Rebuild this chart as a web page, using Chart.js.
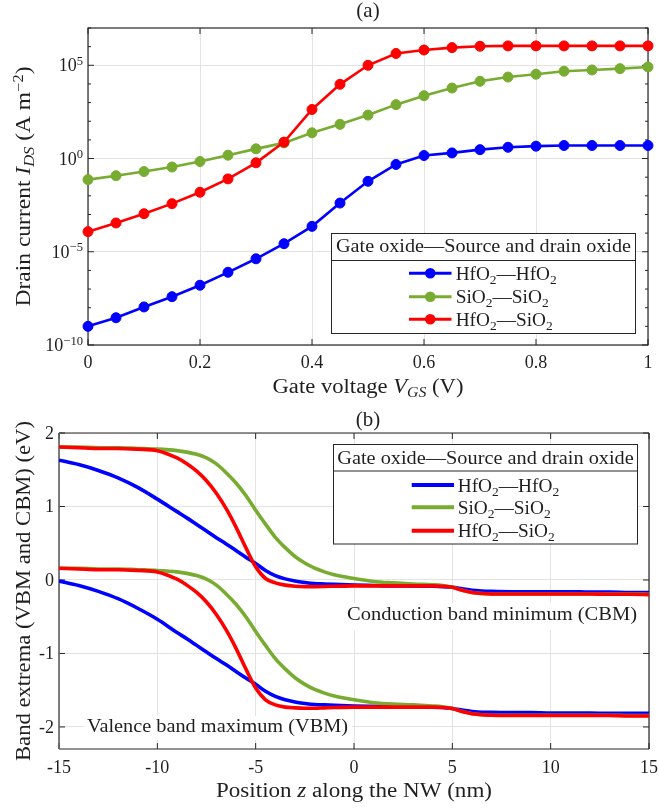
<!DOCTYPE html>
<html>
<head>
<meta charset="utf-8">
<script src="https://cdn.jsdelivr.net/npm/chart.js@4.4.1/dist/chart.umd.min.js"></script>
<style>
html,body{margin:0;padding:0;background:#fff;}
canvas{position:absolute;left:0;}
#c1{top:0;}
#c2{top:404px;}
</style>
</head>
<body>
<canvas id="c1" width="659" height="404"></canvas>
<canvas id="c2" width="659" height="404"></canvas>
<script>
// ---------------- DATA: panel (a) ----------------
const vgs = [0,0.05,0.1,0.15,0.2,0.25,0.3,0.35,0.4,0.45,0.5,0.55,0.6,0.65,0.7,0.75,0.8,0.85,0.9,0.95,1];
const idsHfO2HfO2 = [1.0e-9,2.9e-9,1.1e-8,3.9e-8,1.6e-7,7.9e-7,4.2e-6,2.7e-5,2.3e-4,4.1e-3,6.0e-2,0.48,1.45,2.0,3.0,4.0,4.6,5.0,5.0,5.0,5.0];
const idsSiO2SiO2 = [0.074,0.12,0.20,0.35,0.69,1.5,3.3,6.9,24,68,214,776,2340,6030,13800,23400,33100,47900,56200,66100,81300];
const idsHfO2SiO2 = [1.2e-4,3.5e-4,1.1e-3,3.8e-3,0.0155,0.081,0.59,7.6,427,9550,1.0e5,4.3e5,6.6e5,8.9e5,1.05e6,1.1e6,1.1e6,1.1e6,1.1e6,1.1e6,1.1e6];
const vgsTicks = [0,0.2,0.4,0.6,0.8,1];
const vgsTickLabels = ['0','0.2','0.4','0.6','0.8','1'];
const idsTickValues = [1e-10,1e-5,1e0,1e5];
const idsTickExps = ['\u221210','\u22125','0','5'];
const idsMinExp = -10, idsMaxExp = 7;

// ---------------- DATA: panel (b) ----------------
const zPos = [-15,-14,-13,-12,-11,-10,-9,-8.5,-8,-7.5,-7,-6.5,-6,-5.5,-5,-4.5,-4,-3.5,-3,-2.5,-2,-1.5,-1,0,1,2,3,4,4.5,5,5.5,6,6.5,7,8,9,10,11,12,13,14,15];
const cbmHfO2HfO2 = [1.63,1.57,1.49,1.39,1.26,1.10,0.93,0.845,0.755,0.665,0.575,0.49,0.40,0.31,0.225,0.13,0.06,0.015,-0.015,-0.035,-0.05,-0.055,-0.06,-0.07,-0.075,-0.08,-0.08,-0.085,-0.09,-0.10,-0.12,-0.14,-0.15,-0.155,-0.16,-0.16,-0.16,-0.16,-0.165,-0.165,-0.17,-0.17];
const cbmSiO2SiO2 = [1.81,1.81,1.80,1.80,1.79,1.78,1.76,1.74,1.71,1.66,1.58,1.46,1.32,1.15,0.95,0.76,0.58,0.44,0.32,0.23,0.16,0.11,0.07,0.02,-0.02,-0.04,-0.055,-0.065,-0.075,-0.10,-0.14,-0.17,-0.185,-0.19,-0.19,-0.19,-0.19,-0.19,-0.19,-0.19,-0.19,-0.195];
const cbmHfO2SiO2 = [1.81,1.80,1.79,1.79,1.78,1.76,1.66,1.58,1.48,1.35,1.18,0.97,0.72,0.44,0.18,0.02,-0.04,-0.07,-0.085,-0.09,-0.09,-0.088,-0.085,-0.08,-0.08,-0.08,-0.08,-0.08,-0.085,-0.10,-0.14,-0.17,-0.185,-0.19,-0.19,-0.19,-0.19,-0.19,-0.19,-0.195,-0.195,-0.20];
const vbmHfO2HfO2 = [-0.015,-0.075,-0.155,-0.255,-0.385,-0.535,-0.715,-0.80,-0.89,-0.98,-1.07,-1.155,-1.245,-1.335,-1.42,-1.515,-1.585,-1.63,-1.66,-1.68,-1.695,-1.70,-1.705,-1.715,-1.72,-1.725,-1.73,-1.73,-1.735,-1.75,-1.77,-1.79,-1.80,-1.80,-1.805,-1.805,-1.81,-1.81,-1.81,-1.815,-1.815,-1.815];
const vbmSiO2SiO2 = [0.16,0.16,0.15,0.15,0.14,0.13,0.11,0.09,0.06,0.01,-0.07,-0.19,-0.33,-0.50,-0.70,-0.89,-1.07,-1.21,-1.33,-1.42,-1.49,-1.54,-1.58,-1.63,-1.67,-1.69,-1.70,-1.715,-1.725,-1.75,-1.79,-1.82,-1.835,-1.84,-1.84,-1.84,-1.84,-1.84,-1.84,-1.84,-1.845,-1.845];
const vbmHfO2SiO2 = [0.16,0.15,0.14,0.14,0.13,0.11,0.01,-0.07,-0.17,-0.30,-0.47,-0.68,-0.93,-1.21,-1.47,-1.63,-1.70,-1.73,-1.74,-1.745,-1.745,-1.74,-1.735,-1.73,-1.73,-1.73,-1.73,-1.73,-1.735,-1.75,-1.79,-1.82,-1.835,-1.84,-1.845,-1.845,-1.845,-1.845,-1.845,-1.845,-1.85,-1.85];
const zTicks = [-15,-10,-5,0,5,10,15];
const zTickLabels = ['-15','-10','-5','0','5','10','15'];
const eTicks = [-2,-1,0,1,2];
const eTickLabels = ['-2','-1','0','1','2'];

const seriesNames = ['HfO_2\u2014HfO_2','SiO_2\u2014SiO_2','HfO_2\u2014SiO_2'];
const legendTitle = 'Gate oxide\u2014Source and drain oxide';
const seriesColors = ['#0000ff','#77ac30','#ff0000'];

// ---------------- helpers ----------------
const FONT = '"Liberation Serif","Times New Roman",serif';
const TXT = '#1f1f1f';
const AXC = '#262626';
const GRIDC = '#e3e3e3';
function segFont(s,size){const z=s.b?size*0.7:size;return (s.i?'italic ':'')+z+'px '+FONT;}
function richWidth(ctx,segs,size){let w=0;for(const s of segs){ctx.font=segFont(s,size);w+=ctx.measureText(s.t).width;}return w;}
function drawRich(ctx,segs,x,y,size,align,target){
  const w=richWidth(ctx,segs,size);
  const sx=target?target/w:1;
  ctx.save();ctx.translate(x,y);ctx.scale(sx,1);
  ctx.fillStyle=TXT;ctx.textBaseline='alphabetic';ctx.textAlign='left';
  let cx=align==='center'?-w/2:(align==='right'?-w:0);
  for(const s of segs){ctx.font=segFont(s,size);const dy=s.b==='sub'?size*0.22:(s.b==='sup'?-size*0.36:0);ctx.fillText(s.t,cx,dy);cx+=ctx.measureText(s.t).width;}
  ctx.restore();
}
function parseSub(str){const out=[];const parts=str.split(/_(\w)/);for(let k=0;k<parts.length;k++){if(!parts[k])continue;out.push(k%2===1?{t:parts[k],b:'sub'}:{t:parts[k]});}return out;}
function drawLegend(ctx,L){
  ctx.save();
  ctx.fillStyle='#fff';ctx.fillRect(L.x0,L.y0,L.x1-L.x0,L.y1-L.y0);
  ctx.strokeStyle=AXC;ctx.lineWidth=1;ctx.strokeRect(L.x0,L.y0,L.x1-L.x0,L.y1-L.y0);
  ctx.beginPath();ctx.moveTo(L.x0,L.sep);ctx.lineTo(L.x1,L.sep);ctx.stroke();
  drawRich(ctx,[{t:legendTitle}],(L.x0+L.x1)/2,L.hb,19,'center',L.hw);
  for(let k=0;k<3;k++){
    const ey=L.ey[k];
    ctx.strokeStyle=seriesColors[k];ctx.lineWidth=L.lw;
    ctx.beginPath();ctx.moveTo(L.lx0,ey);ctx.lineTo(L.lx1,ey);ctx.stroke();
    if(L.marker){ctx.fillStyle=seriesColors[k];ctx.beginPath();ctx.arc((L.lx0+L.lx1)/2,ey,5.3,0,Math.PI*2);ctx.fill();}
    drawRich(ctx,parseSub(seriesNames[k]),L.tx,ey+6.5,19,'left',L.tw[k]);
  }
  ctx.restore();
}

// ---------------- panel (a) ----------------
const decorA={
  id:'decorA',
  beforeDatasetsDraw(chart){
    const {ctx,chartArea:a,scales:{x,y}}=chart;
    ctx.save();ctx.strokeStyle=AXC;ctx.lineWidth=1;ctx.beginPath();
    for(const v of vgsTicks){const px=x.getPixelForValue(v);ctx.moveTo(px,a.bottom);ctx.lineTo(px,a.bottom-6);ctx.moveTo(px,a.top);ctx.lineTo(px,a.top+6);}
    for(let e=idsMinExp;e<=idsMaxExp;e++){const py=y.getPixelForValue(Math.pow(10,e));const L=(e%5===0)?6:3;ctx.moveTo(a.left,py);ctx.lineTo(a.left+L,py);ctx.moveTo(a.right,py);ctx.lineTo(a.right-L,py);}
    ctx.stroke();
    ctx.lineWidth=1.2;ctx.strokeRect(a.left,a.top,a.right-a.left,a.bottom-a.top);
    ctx.restore();
  },
  afterDraw(chart){
    const {ctx,chartArea:a,scales:{x,y}}=chart;
    vgsTicks.forEach((v,k)=>drawRich(ctx,[{t:vgsTickLabels[k]}],x.getPixelForValue(v),368,18,'center'));
    idsTickValues.forEach((v,k)=>drawRich(ctx,[{t:'10'},{t:idsTickExps[k],b:'sup'}],83,y.getPixelForValue(v)+6,18,'right'));
    drawRich(ctx,[{t:'(a)'}],368,17,21,'center');
    drawRich(ctx,[{t:'Gate voltage '},{t:'V',i:1},{t:'GS',i:1,b:'sub'},{t:' (V)'}],(a.left+a.right)/2,393,20,'center',191);
    ctx.save();ctx.translate(30,(a.top+a.bottom)/2);ctx.rotate(-Math.PI/2);
    drawRich(ctx,[{t:'Drain current '},{t:'I',i:1},{t:'DS',i:1,b:'sub'},{t:' (A m'},{t:'\u22122',b:'sup'},{t:')'}],0,0,20,'center',240);
    ctx.restore();
    drawLegend(ctx,{x0:331.5,y0:233.5,x1:635.5,y1:333.5,sep:260.5,hb:251.5,hw:295,ey:[273.3,296.7,319.3],lx0:409,lx1:451.5,tx:455.7,tw:[101,93,97],lw:3,marker:true});
  }
};
function dsA(data,k,order){return {label:seriesNames[k],data:vgs.map((v,i)=>({x:v,y:data[i]})),borderColor:seriesColors[k],backgroundColor:seriesColors[k],borderWidth:2.6,pointRadius:5,pointBorderWidth:1,pointBorderColor:seriesColors[k],pointBackgroundColor:seriesColors[k],tension:0,clip:false,order:order};}
new Chart(document.getElementById('c1'),{
  type:'line',
  data:{datasets:[dsA(idsHfO2HfO2,0,2),dsA(idsSiO2SiO2,1,1),dsA(idsHfO2SiO2,2,0)]},
  options:{
    responsive:false,animation:false,events:[],
    layout:{padding:{top:28,right:11,left:0,bottom:0}},
    plugins:{legend:{display:false},tooltip:{enabled:false}},
    scales:{
      x:{type:'linear',min:0,max:1,ticks:{display:false},grid:{color:GRIDC,drawTicks:false,lineWidth:1},border:{display:false},
         afterBuildTicks:(s)=>{s.ticks=vgsTicks.map(v=>({value:v}));},afterFit:(s)=>{s.height=59;}},
      y:{type:'logarithmic',min:1e-10,max:1e7,ticks:{display:false},grid:{color:GRIDC,drawTicks:false,lineWidth:1},border:{display:false},
         afterBuildTicks:(s)=>{s.ticks=idsTickValues.map(v=>({value:v}));},afterFit:(s)=>{s.width=88;}}
    }
  },
  plugins:[decorA]
});

// ---------------- panel (b) ----------------
const OFF=404;
const decorB={
  id:'decorB',
  beforeDatasetsDraw(chart){
    const {ctx,chartArea:a,scales:{x,y}}=chart;
    ctx.save();ctx.strokeStyle=AXC;ctx.lineWidth=1;ctx.beginPath();
    for(const v of zTicks){const px=x.getPixelForValue(v);ctx.moveTo(px,a.bottom);ctx.lineTo(px,a.bottom-6);ctx.moveTo(px,a.top);ctx.lineTo(px,a.top+6);}
    for(const v of eTicks){const py=y.getPixelForValue(v);ctx.moveTo(a.left,py);ctx.lineTo(a.left+6,py);ctx.moveTo(a.right,py);ctx.lineTo(a.right-6,py);}
    ctx.stroke();
    ctx.lineWidth=1.2;
    ctx.beginPath();ctx.moveTo(a.left,a.top);ctx.lineTo(a.right,a.top);ctx.moveTo(a.left,a.bottom);ctx.lineTo(a.right,a.bottom);ctx.moveTo(a.right,a.top);ctx.lineTo(a.right,a.bottom);ctx.stroke();
    ctx.strokeStyle='#5e5e5e';ctx.lineWidth=1.6;ctx.beginPath();ctx.moveTo(a.left,a.top);ctx.lineTo(a.left,a.bottom);ctx.stroke();
    ctx.fillStyle='#fff';
    ctx.fillRect(344,603-OFF,297,27);
    ctx.fillRect(84,716-OFF,268,24);
    drawRich(ctx,[{t:'Conduction band minimum (CBM)'}],347,620-OFF,19,'left',290);
    drawRich(ctx,[{t:'Valence band maximum (VBM)'}],87,731.5-OFF,19,'left',261);
    ctx.restore();
  },
  afterDraw(chart){
    const {ctx,chartArea:a,scales:{x,y}}=chart;
    zTicks.forEach((v,k)=>drawRich(ctx,[{t:zTickLabels[k]}],x.getPixelForValue(v),772.5-OFF,18,'center'));
    eTicks.forEach((v,k)=>drawRich(ctx,[{t:eTickLabels[k]}],54,y.getPixelForValue(v)+6,18,'right'));
    drawRich(ctx,[{t:'(b)'}],368,426-OFF,21,'center');
    drawRich(ctx,[{t:'Position '},{t:'z',i:1},{t:' along the NW (nm)'}],(a.left+a.right)/2,797-OFF,20,'center',276);
    ctx.save();ctx.translate(30,(a.top+a.bottom)/2);ctx.rotate(-Math.PI/2);
    drawRich(ctx,[{t:'Band extrema (VBM and CBM) (eV)'}],0,0,20,'center',340);
    ctx.restore();
    drawLegend(ctx,{x0:333.5,y0:444.5-OFF,x1:637.5,y1:544-OFF,sep:471-OFF,hb:463.5-OFF,hw:296.5,ey:[485-OFF,507.3-OFF,530.7-OFF],lx0:411.7,lx1:454,tx:457.7,tw:[101.5,93,97],lw:4,marker:false});
  }
};
function dsB(data,k,order){return {label:seriesNames[k],data:zPos.map((z,i)=>({x:z,y:data[i]})),borderColor:seriesColors[k],backgroundColor:seriesColors[k],borderWidth:3.6,pointRadius:0,cubicInterpolationMode:'monotone',order:order};}
new Chart(document.getElementById('c2'),{
  type:'line',
  data:{datasets:[dsB(cbmHfO2HfO2,0,2),dsB(cbmSiO2SiO2,1,1),dsB(cbmHfO2SiO2,2,0),dsB(vbmHfO2HfO2,0,2),dsB(vbmSiO2SiO2,1,1),dsB(vbmHfO2SiO2,2,0)]},
  options:{
    responsive:false,animation:false,events:[],
    layout:{padding:{top:29,right:10,left:0,bottom:0}},
    plugins:{legend:{display:false},tooltip:{enabled:false}},
    scales:{
      x:{type:'linear',min:-15,max:15,ticks:{display:false},grid:{color:GRIDC,drawTicks:false,lineWidth:1},border:{display:false},
         afterBuildTicks:(s)=>{s.ticks=zTicks.map(v=>({value:v}));},afterFit:(s)=>{s.height=59;}},
      y:{type:'linear',min:-2.3,max:2,ticks:{display:false},grid:{color:GRIDC,drawTicks:false,lineWidth:1},border:{display:false},
         afterBuildTicks:(s)=>{s.ticks=eTicks.map(v=>({value:v}));},afterFit:(s)=>{s.width=59;}}
    }
  },
  plugins:[decorB]
});
</script>
</body>
</html>
